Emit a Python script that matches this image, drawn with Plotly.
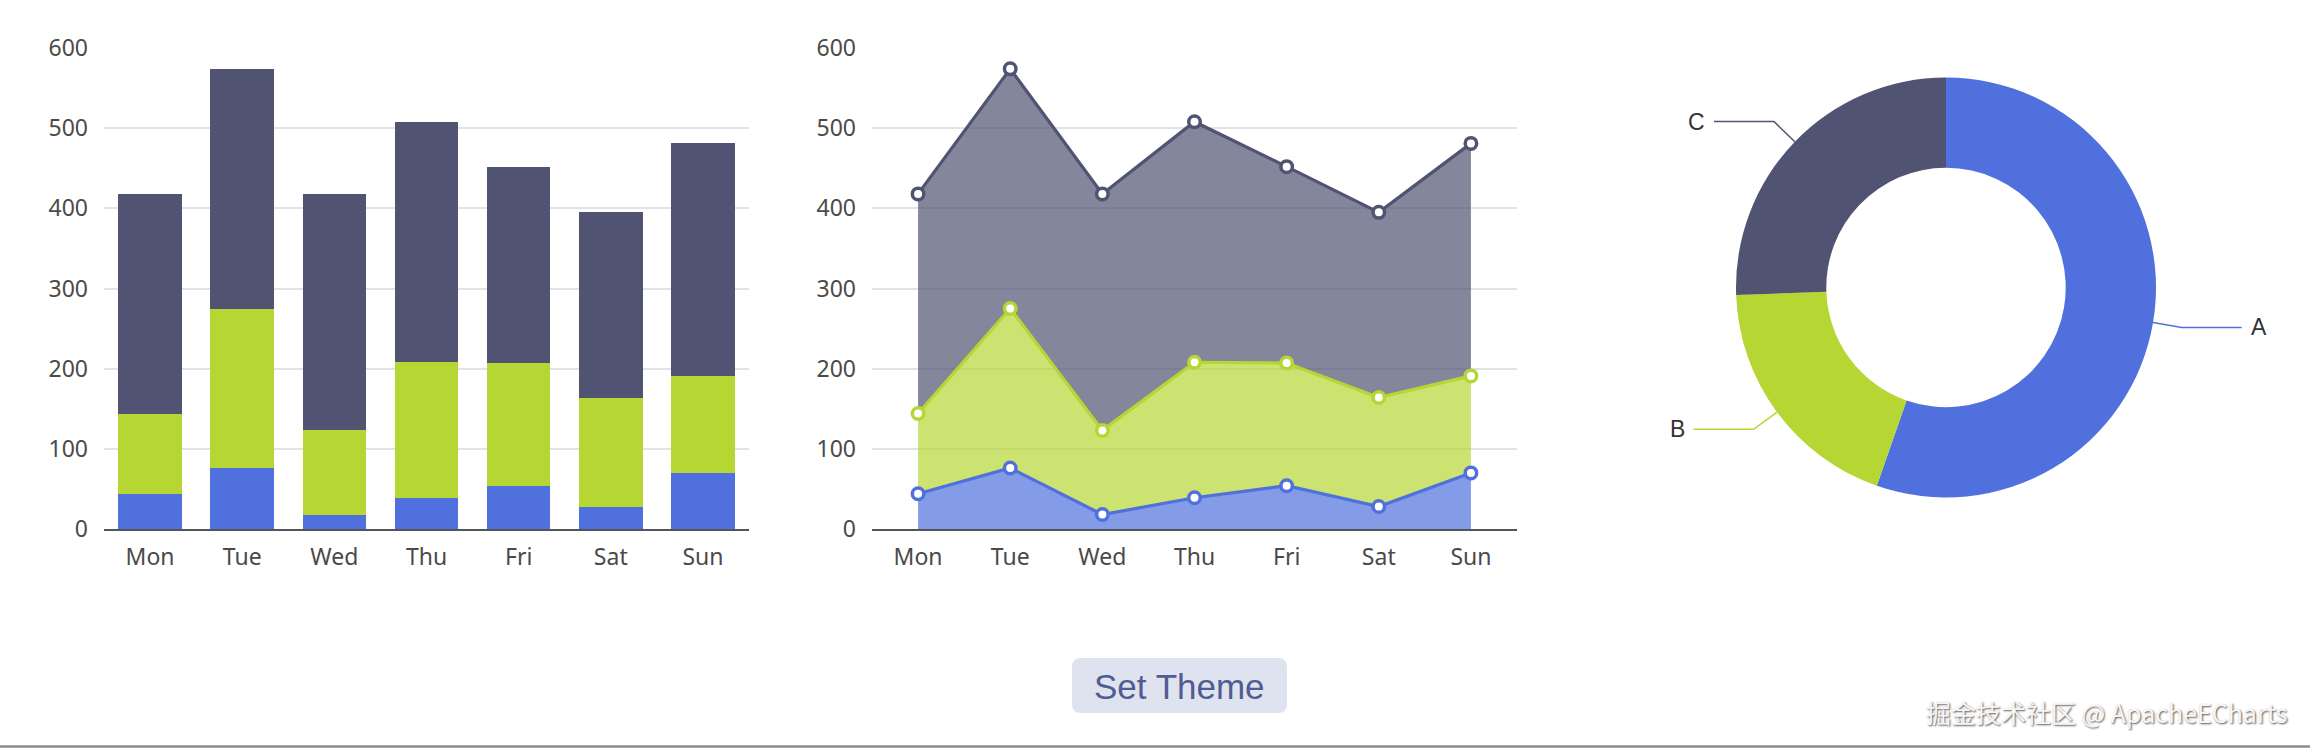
import numpy as np
import plotly.graph_objects as go

# Data ------------------------------------------------------------------------
days = ['Mon', 'Tue', 'Wed', 'Thu', 'Fri', 'Sat', 'Sun']
series_a = [44, 76, 18, 39, 54, 28, 70]
series_b = [100, 199, 105, 169, 153, 136, 121]
series_c = [274, 299, 295, 300, 245, 231, 290]
y_ticks = [0, 100, 200, 300, 400, 500, 600]

pie_labels = ['A', 'B', 'C']
pie_values = [55.4, 19.1, 25.6]

# Settings --------------------------------------------------------------------
W, H = 2310, 748
colours = ['#5070dd', '#b6d634', '#505372']
area_colours = ['rgba(80,112,221,0.7)', 'rgba(182,214,52,0.7)', 'rgba(80,83,114,0.7)']
grid_colour = '#e0e3e8'
axis_colour = '#54555a'
label_colour = '#4a4a4a'
font_family = 'Noto Sans, sans-serif'


def dom_x(a, b):
    return [a / W, b / W]


def dom_y(top, bottom):
    return [1 - bottom / H, 1 - top / H]


grid_top, grid_bottom = 48, 529
pie_cx, pie_cy, pie_r = 1946, 287.5, 210

fig = go.Figure()

# Stacked bars ------------------------------------------------------------------
for name, vals, col in zip(['a', 'b', 'c'], [series_a, series_b, series_c], colours):
    fig.add_trace(go.Bar(x=days, y=vals, name=name, marker=dict(color=col, line=dict(width=0)),
                         xaxis='x', yaxis='y', showlegend=False))

# Stacked areas -----------------------------------------------------------------
for name, vals, col, fc in zip(['a', 'b', 'c'], [series_a, series_b, series_c], colours, area_colours):
    fig.add_trace(go.Scatter(
        x=days, y=vals, name=name, stackgroup='one', fillcolor=fc,
        mode='lines+markers',
        line=dict(color=col, width=3.2),
        marker=dict(size=11.5, color='white', line=dict(color=col, width=3.5)),
        xaxis='x2', yaxis='y2', showlegend=False))

# Donut -------------------------------------------------------------------------
fig.add_trace(go.Pie(
    labels=pie_labels, values=pie_values, hole=0.57, sort=False,
    direction='clockwise', rotation=0, textinfo='none',
    marker=dict(colors=colours, line=dict(width=0)),
    domain=dict(x=dom_x(pie_cx - pie_r, pie_cx + pie_r),
                y=dom_y(pie_cy - pie_r, pie_cy + pie_r)),
    showlegend=False))

# Leader lines, worked out from the slice angles (pixel overlay axes)
vals = np.array(pie_values, dtype=float)
fracs = vals / vals.sum()
starts = np.concatenate([[0], np.cumsum(fracs)[:-1]])
annotations = []
for lab, f, s, col in zip(pie_labels, fracs, starts, colours):
    mid = (s + f / 2) * 360
    th = np.radians(90 - mid)
    c, sn = np.cos(th), np.sin(th)
    side = 1 if c >= 0 else -1
    x0, y0 = pie_cx + pie_r * c, pie_cy - pie_r * sn
    x1, y1 = pie_cx + (pie_r + 29) * c, pie_cy - (pie_r + 29) * sn
    x2 = x1 + side * 60
    fig.add_trace(go.Scatter(x=[x0, x1, x2], y=[y0, y1, y1], mode='lines',
                             line=dict(color=col, width=1.5), xaxis='x3', yaxis='y3',
                             showlegend=False, hoverinfo='skip'))
    annotations.append(dict(x=x2 + side * 7, y=y1, xref='x3', yref='y3', text=lab,
                            showarrow=False, xanchor='left' if side > 0 else 'right',
                            yanchor='middle',
                            font=dict(family='Liberation Sans, sans-serif', size=23, color='#333333')))

# Button + watermark ------------------------------------------------------------
bx0, bx1, by0, by1, br = 1072, 1287, 658, 713, 9
button_path = (f'M {bx0 + br},{by0} L {bx1 - br},{by0} Q {bx1},{by0} {bx1},{by0 + br} '
               f'L {bx1},{by1 - br} Q {bx1},{by1} {bx1 - br},{by1} '
               f'L {bx0 + br},{by1} Q {bx0},{by1} {bx0},{by1 - br} '
               f'L {bx0},{by0 + br} Q {bx0},{by0} {bx0 + br},{by0} Z')
shapes = [
    dict(type='path', path=button_path, xref='x3', yref='y3',
         fillcolor='#dfe3ef', line=dict(width=0), layer='below'),
    dict(type='line', x0=0, x1=W, y0=746.5, y1=746.5, xref='x3', yref='y3',
         line=dict(color='#8c8c8c', width=2.5)),
]
annotations.append(dict(x=(bx0 + bx1) / 2, y=(by0 + by1) / 2 + 1, xref='x3', yref='y3',
                        text='Set Theme', showarrow=False,
                        font=dict(family='Liberation Sans, sans-serif', size=35, color='#505c94')))
annotations.append(dict(x=2289, y=712, xref='x3', yref='y3', xanchor='right', yanchor='middle',
                        text='掘金技术社区 @ ApacheECharts', showarrow=False,
                        font=dict(family='Noto Sans CJK SC, Noto Sans, sans-serif', size=25,
                                  color='#f6f6f6', shadow='1px 1px 2px #555')))

# Layout ------------------------------------------------------------------------
xaxis_theme = dict(
    type='category', range=[-0.5, 6.5], showgrid=False, zeroline=False,
    showline=True, linecolor=axis_colour, linewidth=2, ticks='',
    ticklabelstandoff=6, automargin=False,
    tickfont=dict(family=font_family, size=23, color=label_colour),
    fixedrange=True,
)
yaxis_theme = dict(
    range=[0, 600], tickvals=y_ticks, showgrid=True, gridcolor=grid_colour, gridwidth=1.5,
    zeroline=False, showline=False, ticks='', ticklabelstandoff=15, automargin=False,
    tickfont=dict(family=font_family, size=23, color=label_colour),
    fixedrange=True,
)

fig.update_layout(
    width=W, height=H,
    margin=dict(l=0, r=0, t=0, b=0, pad=0, autoexpand=False),
    paper_bgcolor='white', plot_bgcolor='rgba(0,0,0,0)',
    barmode='stack', bargap=0.31,
    xaxis=dict(xaxis_theme, domain=dom_x(104, 749), anchor='y'),
    yaxis=dict(yaxis_theme, domain=dom_y(grid_top, grid_bottom), anchor='x'),
    xaxis2=dict(xaxis_theme, domain=dom_x(872, 1517), anchor='y2'),
    yaxis2=dict(yaxis_theme, domain=dom_y(grid_top, grid_bottom), anchor='x2'),
    xaxis3=dict(domain=[0, 1], range=[0, W], visible=False, anchor='y3',
                fixedrange=True, automargin=False),
    yaxis3=dict(domain=[0, 1], range=[H, 0], visible=False, anchor='x3',
                fixedrange=True, automargin=False),
    shapes=shapes,
    annotations=annotations,
)

fig.write_html('out.html', config={'displayModeBar': False},
               post_script="document.body.style.margin='0';")
